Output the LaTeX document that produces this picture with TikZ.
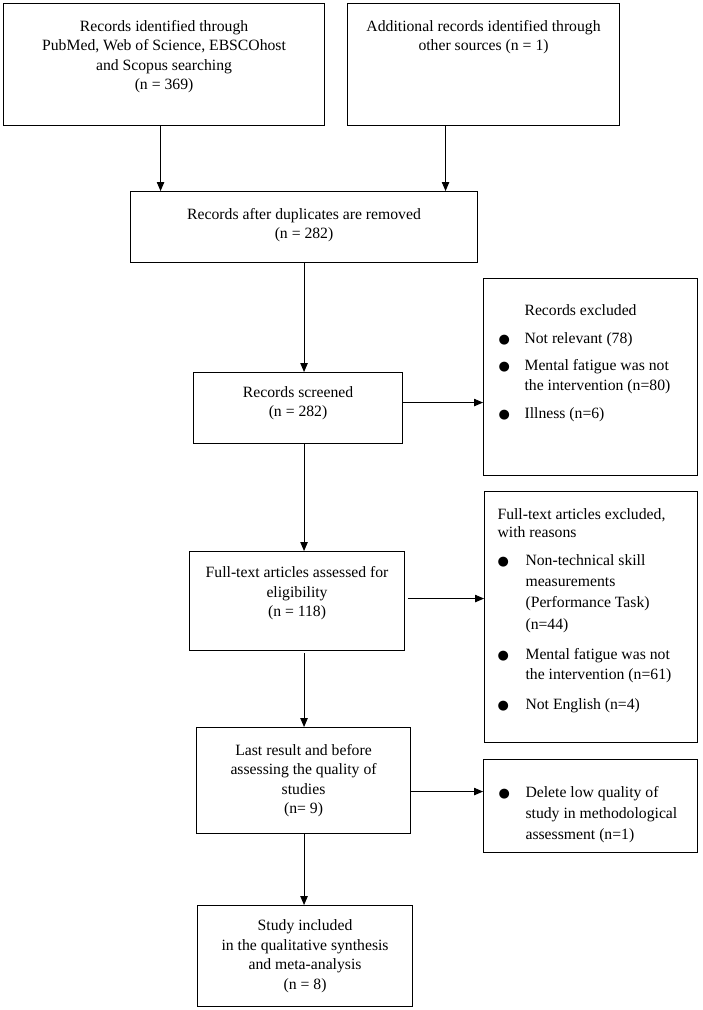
\documentclass[tikz,border=0pt]{standalone}
\usepackage{fontspec}
\setmainfont{Liberation Serif}
\newfontfamily\dotfont{DejaVu Sans}
\usepackage{tikz}
\usetikzlibrary{arrows.meta}
\tikzstyle{flowbox} = [draw=black, line width=1.1pt, rectangle, inner sep=0pt,
    anchor=north west, font=\fontsize{15.7}{19.5}\selectfont]
\tikzstyle{flowarrow} = [line width=0.9pt, -{Triangle[length=9pt, width=7.5pt]}]
\newcommand{\blt}{{\dotfont\fontsize{13}{13}\selectfont ●}}

\begin{document}
\begin{tikzpicture}[x=1pt, y=-1pt]
    \useasboundingbox (0,0) rectangle (702,1010);
    \node [flowbox] (ident) at (3,3) {
        \begin{minipage}[c][122pt][t]{321pt}
            \centering\vspace{16.5pt}
            Records identified through\\
            PubMed, Web of Science, EBSCOhost\\
            and Scopus searching\\
            (n = 369)
        \end{minipage}
    };
    \node [flowbox] (other) at (347,3) {
        \begin{minipage}[c][122pt][t]{272pt}
            \centering\vspace{16.5pt}
            Additional records identified through\\
            other sources (n = 1)
        \end{minipage}
    };
    \node [flowbox] (dup) at (130,191) {
        \begin{minipage}[c][71pt][c]{347pt}
            \centering
            Records after duplicates are removed\\
            (n = 282)\par\vspace{4pt}
        \end{minipage}
    };
    \node [flowbox] (screen) at (193,372) {
        \begin{minipage}[c][71pt][c]{209pt}
            \centering
            Records screened\\
            (n = 282)\par\vspace{10pt}
        \end{minipage}
    };
    \node [flowbox] (excl) at (483,278) {
        \begin{minipage}[c][197pt][t]{214pt}
            \vspace{22.8pt}
            \hspace*{15pt}\begin{tabular}[t]{@{}p{26pt}@{}l@{}}
                & Records excluded\\[8.5pt]
                \blt & Not relevant (78)\\[8pt]
                \blt & Mental fatigue was not\\
                & the intervention (n=80)\\[9pt]
                \blt & Illness (n=6)
            \end{tabular}
        \end{minipage}
    };
    \node [flowbox] (full) at (189,551) {
        \begin{minipage}[c][99pt][c]{215pt}
            \centering
            Full-text articles assessed for\\
            eligibility\\
            (n = 118)\par\vspace{15pt}
        \end{minipage}
    };
    \node [flowbox] (fexcl) at (484,491) {
        \begin{minipage}[c][251pt][t]{213pt}
            \vspace{13.9pt}
            \hspace*{13pt}\begin{tabular}[t]{@{}p{28pt}@{}l@{}}
                \multicolumn{2}{@{}l@{}}{Full-text articles excluded,}\\[-1.5pt]
                \multicolumn{2}{@{}l@{}}{with reasons}\\[8.5pt]
                \blt & Non-technical skill\\[1.5pt]
                & measurements\\[1.5pt]
                & (Performance Task)\\[2.5pt]
                & (n=44)\\[10.5pt]
                \blt & Mental fatigue was not\\[0.5pt]
                & the intervention (n=61)\\[10.5pt]
                \blt & Not English (n=4)
            \end{tabular}
        \end{minipage}
    };
    \node [flowbox] (last) at (196,727) {
        \begin{minipage}[c][106pt][c]{214pt}
            \centering
            Last result and before\\
            assessing the quality of\\
            studies\\
            (n= 9)
        \end{minipage}
    };
    \node [flowbox] (qual) at (483,759) {
        \begin{minipage}[c][93pt][t]{214pt}
            \vspace{23.8pt}
            \hspace*{15pt}\begin{tabular}[t]{@{}p{27pt}@{}l@{}}
                \blt & Delete low quality of\\[1.5pt]
                & study in methodological\\[1.5pt]
                & assessment (n=1)
            \end{tabular}
        \end{minipage}
    };
    \node [flowbox] (incl) at (197,905) {
        \begin{minipage}[c][101pt][c]{215pt}
            \centering
            Study included\\
            in the qualitative synthesis\\
            and meta-analysis\\
            (n = 8)
        \end{minipage}
    };
    \draw [flowarrow] ([xshift=-3.5pt]ident.south) -- ([xshift=-3.5pt]ident.south |- dup.north);
    \draw [flowarrow] ([xshift=-38pt]other.south) -- ([xshift=-38pt]other.south |- dup.north);
    \draw [flowarrow] (dup.south) -- (dup.south |- screen.north);
    \draw [flowarrow] ([yshift=5.5pt]screen.east) -- ([yshift=5.5pt]screen.east -| excl.west);
    \draw [flowarrow] (dup.south |- screen.south) -- (dup.south |- full.north);
    \draw [flowarrow, shorten <=3pt] ([yshift=2.5pt]full.east) -- ([yshift=2.5pt]full.east -| fexcl.west);
    \draw [flowarrow, shorten <=2pt] (dup.south |- full.south) -- (dup.south |- last.north);
    \draw [flowarrow] ([yshift=-11pt]last.east) -- ([yshift=-11pt]last.east -| qual.west);
    \draw [flowarrow] (dup.south |- last.south) -- (dup.south |- incl.north);
\end{tikzpicture}
\end{document}
